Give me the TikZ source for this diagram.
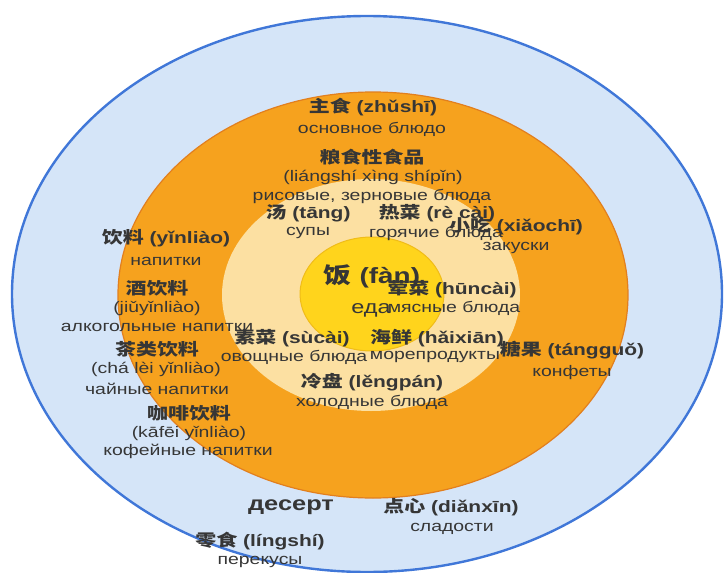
\documentclass[tikz,border=0pt]{standalone}
\usepackage{fontspec}
\setmainfont{Liberation Sans}
\newfontfamily\cjk{Noto Sans CJK SC}
\definecolor{bluefill}{HTML}{D5E5F8}
\definecolor{blueline}{HTML}{4077D8}
\definecolor{orangefill}{HTML}{F6A21E}
\definecolor{orangeline}{HTML}{E27F1E}
\definecolor{creamfill}{HTML}{FCE0A2}
\definecolor{yellowfill}{HTML}{FFD41C}
\definecolor{yellowline}{HTML}{F0BC19}
\definecolor{txt}{HTML}{363636}
\newcommand\sx[1]{\scalebox{1.27}[1]{#1}}
\newcommand\zh[1]{{\cjk #1}}
\tikzset{
  hb/.style={font=\bfseries\fontsize{16.5}{18}\selectfont, text=txt, inner sep=0pt},
  rg/.style={font=\fontsize{15.3}{17}\selectfont, text=txt, inner sep=0pt},
  big/.style={font=\bfseries\fontsize{22}{24}\selectfont, text=txt, inner sep=0pt},
  bigr/.style={font=\fontsize{18.5}{20}\selectfont, text=txt, inner sep=0pt},
  dess/.style={font=\bfseries\fontsize{20}{22}\selectfont, text=txt, inner sep=0pt},
}
\begin{document}
\begin{tikzpicture}[x=1pt,y=-1pt]
\useasboundingbox (0,0) rectangle (724,573);
\clip (0,0) rectangle (724,573);
% rings
\path[fill=bluefill, draw=blueline, line width=2.4pt] (367,294) ellipse [x radius=355, y radius=278];
\path[fill=orangefill, draw=orangeline, line width=1.2pt] (373,295) ellipse [x radius=255, y radius=203];
\path[fill=creamfill] (371,295) ellipse [x radius=149, y radius=116];
\path[fill=yellowfill, draw=yellowline, line width=1pt] (372,294) ellipse [x radius=72, y radius=57];

% top
\node[hb] (zhushi) at (373,107) {\sx{\zh{主食} (zhǔshī)}};
\node[rg] (zhushiru) at (372,129) {\sx{основное блюдо}};
\node[hb] (liangshi) at (372,157) {\sx{\zh{粮食性食品}}};
\node[rg] (liangshipy) at (373,177) {\sx{(liángshí xìng shípǐn)}};
\node[rg] (liangshiru) at (372,196) {\sx{рисовые, зерновые блюда}};
\node[hb] (tang) at (308,213) {\sx{\zh{汤} (tāng)}};
\node[rg] (tangru) at (308,233) {\sx{супы}};
\node[rg] (recairu) at (436,233) {\sx{горячие блюда}};
\node[hb] (recai) at (437,213) {\sx{\zh{热菜} (rè cài)}};
\node[hb] (xiaochi) at (516,226) {\sx{\zh{小吃} (xiǎochī)}};
\node[rg] (xiaochiru) at (516,248) {\sx{закуски}};

% centre
\node[big] (fan) at (372,276) {\sx{\zh{饭} (fàn)}};
\node[bigr] (fanru) at (371,310) {\sx{еда}};
\node[hb] (huncai) at (452,289) {\sx{\zh{荤菜} (hūncài)}};
\node[rg] (huncairu) at (454,308) {\sx{мясные блюда}};
\node[hb] (sucai) at (292,338) {\sx{\zh{素菜} (sùcài)}};
\node[rg] (sucairu) at (294,357) {\sx{овощные блюда}};
\node[hb] (haixian) at (437,338) {\sx{\zh{海鲜} (hǎixiān)}};
\node[rg] (haixianru) at (435,357) {\sx{морепродукты}};
\node[hb] (tangguo) at (572,350) {\sx{\zh{糖果} (tángguǒ)}};
\node[rg] (tangguoru) at (572,373) {\sx{конфеты}};
\node[hb] (lengpan) at (372,382) {\sx{\zh{冷盘} (lěngpán)}};
\node[rg] (lengpanru) at (372,402) {\sx{холодные блюда}};

% drinks
\node[hb] (yinliao) at (166,238) {\sx{\zh{饮料} (yǐnliào)}};
\node[rg] (yinliaoru) at (166,261) {\sx{напитки}};
\node[hb] (jiu) at (157,288) {\sx{\zh{酒饮料}}};
\node[rg] (jiupy) at (157,308) {\sx{(jiǔyǐnliào)}};
\node[rg] (jiuru) at (157,327) {\sx{алкогольные напитки}};
\node[hb] (cha) at (157,349) {\sx{\zh{茶类饮料}}};
\node[rg] (chapy) at (156,369) {\sx{(chá lèi yǐnliào)}};
\node[rg] (charu) at (157,389) {\sx{чайные напитки}};
\node[hb] (kafei) at (189,413) {\sx{\zh{咖啡饮料}}};
\node[rg] (kafeipy) at (189,433) {\sx{(kāfēi yǐnliào)}};
\node[rg] (kafeiru) at (188,451) {\sx{кофейные напитки}};

% bottom
\node[dess] (desert) at (291,507) {\sx{десерт}};
\node[hb] (dianxin) at (451,507) {\sx{\zh{点心} (diǎnxīn)}};
\node[rg] (dianxinru) at (452,529) {\sx{сладости}};
\node[hb] (lingshi) at (260,541) {\sx{\zh{零食} (língshí)}};
\node[rg] (lingshiru) at (260,562) {\sx{перекусы}};
\end{tikzpicture}
\end{document}
